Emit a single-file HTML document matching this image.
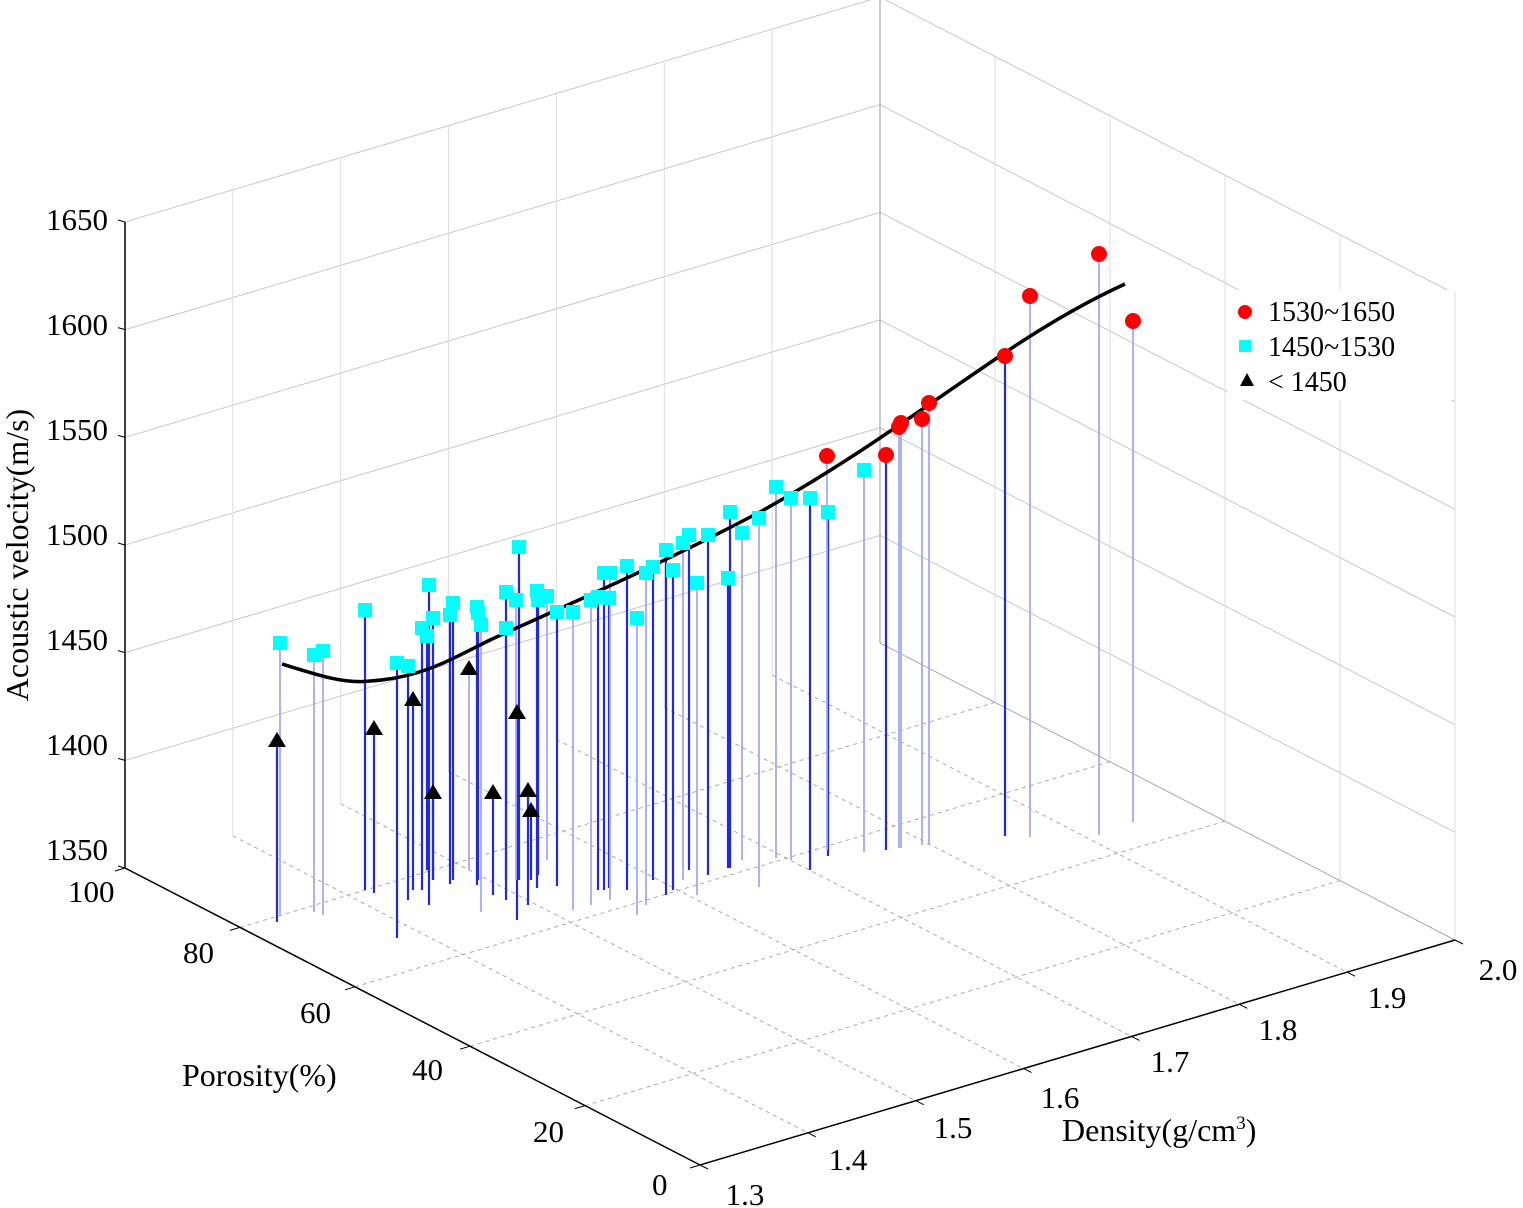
<!DOCTYPE html>
<html><head><meta charset="utf-8"><style>
html,body{margin:0;padding:0;background:#fff;}
svg{display:block;font-family:"Liberation Serif",serif;}
</style></head><body>
<svg id="s" width="1523" height="1208" viewBox="0 0 1523 1208" xmlns="http://www.w3.org/2000/svg">
<g id="grid"></g><g id="stems"></g>
<path d="M282,664 C320,676 345,684 370,681 C420,678 450,660 490,640 C560,608 650,570 760,512 C850,462 920,410 1000,356 C1050,322 1090,300 1125,284" fill="none" stroke="#000" stroke-width="3.5"/>
<g id="marks"></g>
<g id="axes" stroke="#000" stroke-width="1.5" fill="none">
<path d="M125,222 L125,868 L700,1165 L1455,940"/>
</g>
<g id="labels" font-size="31" fill="#000"></g>
<text x="28" y="555" font-size="32" transform="rotate(-90 28 555)" text-anchor="middle">Acoustic velocity(m/s)</text>
<text x="182" y="1086" font-size="32">Porosity(%)</text>
<text x="1062" y="1141" font-size="32">Density(g/cm<tspan font-size="19" dy="-12">3</tspan><tspan dy="12">)</tspan></text>
<rect x="1228" y="290" width="226" height="110" fill="#fff"/>
<circle cx="1245" cy="312" r="7" fill="#f00"/>
<text x="1268" y="321" font-size="28">1530~1650</text>
<rect x="1239" y="340" width="12" height="12" fill="#0ff"/>
<text x="1268" y="356" font-size="28">1450~1530</text>
<polygon points="1247,373 1240,386 1254,386" fill="#000"/>
<text x="1268" y="391" font-size="28">&lt; 1450</text>
</svg>
<script>
var NS="http://www.w3.org/2000/svg";
function el(p,t,a){var e=document.createElementNS(NS,t);for(var k in a)e.setAttribute(k,a[k]);document.getElementById(p).appendChild(e);return e;}
function P(p,d){var a=(100-p)/100,b=(d-1.3)/0.7;return [125+a*575+b*755,868+a*297-b*225];}
var H=646/300;
function line(g,x1,y1,x2,y2,st){var o={x1:x1,y1:y1,x2:x2,y2:y2,stroke:"#c8c8c8","stroke-width":1};for(var k in st)o[k]=st[k];el(g,"line",o);}
for(var v=1400;v<=1650;v+=50){var h=(v-1350)*H;
 line("grid",125,868-h,880,643-h,{});
 line("grid",880,643-h,1455,940-h,{});}
for(var k=1;k<=7;k++){var d=1.3+k*0.1,q=P(100,d);line("grid",q[0],q[1],q[0],q[1]-646,{stroke:k==7?"#999":"#ddd"});}
for(var p=0;p<=80;p+=20){var q=P(p,2.0);line("grid",q[0],q[1],q[0],q[1]-646,{stroke:"#ddd"});}
for(var p=0;p<=80;p+=20){var a=P(p,1.3),b=P(p,2.0);line("grid",a[0],a[1],b[0],b[1],{"stroke-dasharray":"4,4",stroke:"#aaa"});}
for(var k=1;k<=6;k++){var d=1.3+k*0.1,a=P(100,d),b=P(0,d);line("grid",a[0],a[1],b[0],b[1],{"stroke-dasharray":"4,4",stroke:"#aaa"});}
line("grid",880,643,1455,940,{stroke:"#aaa"});
var vl=[[1650,220],[1600,325],[1550,430],[1500,535],[1450,640],[1400,745],[1350,850]];
vl.forEach(function(t){var y=868-(t[0]-1350)*H;line("axes",118,y-2,125,y,{stroke:"#000"});var e=el("labels","text",{x:108,y:t[1]+10,"text-anchor":"end"});e.textContent=t[0];});
var pl=[[100,88,902],[80,203,963],[60,320,1023],[40,432,1080],[20,553,1142],[0,672,1195]];
pl.forEach(function(t){var e=el("labels","text",{x:t[1]-20,y:t[2]});e.textContent=t[0];var q=P(t[0],1.3);line("axes",q[0],q[1],q[0]-10,q[1]+3,{stroke:"#000"});});
var dl=[["1.3",745,1205],["1.4",848,1170],["1.5",953,1138],["1.6",1060,1108],["1.7",1170,1072],["1.8",1278,1040],["1.9",1387,1008],["2.0",1498,980]];
dl.forEach(function(t,i){var e=el("labels","text",{x:t[1],y:t[2],"text-anchor":"middle"});e.textContent=t[0];var q=P(0,1.3+i*0.1);line("axes",q[0],q[1],q[0]+8,q[1]+4,{stroke:"#000"});});
var tri=[[277,740,922],[374,728,893],[413,699,890],[433,792,880],[469,668,870,1],[493,792,895],[517,712,920],[528,790,905],[531,810,880]];
var sq=[[280,643,915,1],[314,655,912,1],[323,651,915,1],[365,610,890],[397,663,938],[408,666,900],[422,628,890],[429,585,905],[427,636,870],[433,618,880],[450,615,884],[453,603,880],[477,607,885],[478,613,880],[481,625,912,1],[506,592,900],[506,628,880],[516,600,880,1],[519,547,880],[537,591,888],[538,600,875],[547,596,860,1],[557,612,886],[573,612,910,1],[591,600,905,1],[598,597,890],[604,573,890],[609,598,888],[610,573,900,1],[627,566,890],[637,618,915,1],[646,573,905,1],[653,567,880],[666,550,895],[673,570,890],[683,543,880,1],[689,535,870],[697,583,895,1],[708,535,875],[728,578,868],[730,512,868],[742,533,860,1],[759,518,887,1],[776,487,858,1],[791,498,860,1],[810,498,870],[828,512,856],[864,470,852,1]];
var ci=[[827,456,850,1],[886,455,850],[899,427,848,1],[901,423,848,1],[922,419,845,1],[929,403,845,1],[1005,356,836],[1030,296,837,1],[1099,254,835,1],[1133,321,822,1]];
function stem(d){el("stems","line",{x1:d[0],y1:d[1],x2:d[0],y2:d[2],stroke:d[3]?"#a4aaf5":"#2028f0","stroke-width":d[3]?1.8:2.2});}
tri.forEach(stem);sq.forEach(stem);ci.forEach(stem);
sq.forEach(function(d){el("marks","rect",{x:d[0]-7,y:d[1]-7,width:14,height:14,fill:"#00ffff"});});
ci.forEach(function(d){el("marks","circle",{cx:d[0],cy:d[1],r:8,fill:"#f00"});});
tri.forEach(function(d){el("marks","polygon",{points:(d[0])+","+(d[1]-8)+" "+(d[0]-9)+","+(d[1]+7)+" "+(d[0]+9)+","+(d[1]+7),fill:"#000"});});
</script>
</body></html>
